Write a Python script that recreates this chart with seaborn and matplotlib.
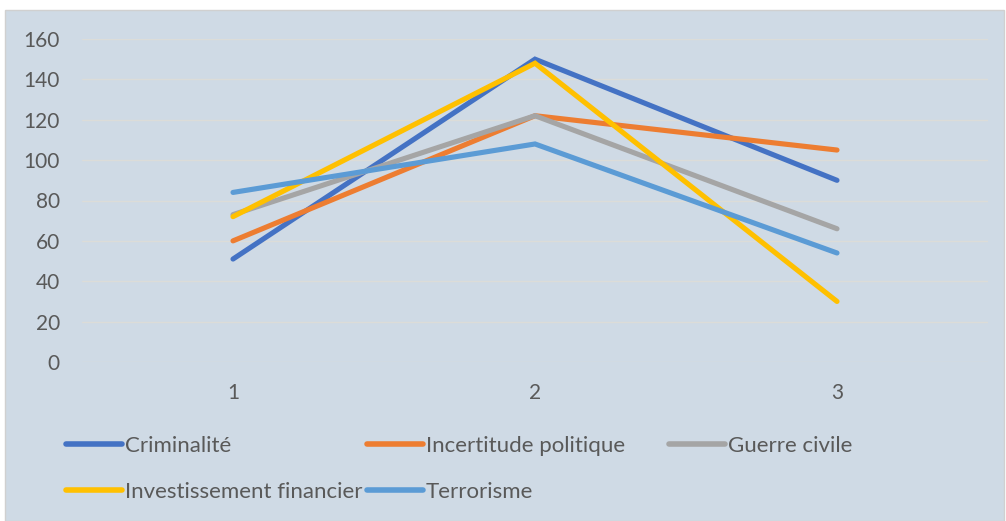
import numpy as np
import pandas as pd
import matplotlib.pyplot as plt
import seaborn as sns
from matplotlib.patches import Rectangle

# data
periods = [1, 2, 3]
series = ['Criminalité', 'Incertitude politique', 'Guerre civile',
          'Investissement financier', 'Terrorisme']
criminalite = [51, 150, 90]
incertitude = [60, 122, 105]
guerre = [73, 122, 66]
investissement = [72, 148, 30]
terrorisme = [84, 108, 54]
colors = ['#4472C4', '#ED7D31', '#A5A5A5', '#FFC000', '#5B9BD5']

df = pd.DataFrame({
    'x': periods * 5,
    'val': criminalite + incertitude + guerre + investissement + terrorisme,
    'serie': [s for s in series for _ in periods],
})

sns.set_style('white')
plt.rcParams['font.family'] = ['Lato', 'DejaVu Sans']
bg = '#CFDAE5'
txt = '#595959'
fs = 15

fig = plt.figure(figsize=(10.06, 5.21), dpi=100, facecolor='white')
fig.patches.append(Rectangle((4.5 / 1006, 0), 999 / 1006, 1 - 9.5 / 521,
                             transform=fig.transFigure, facecolor=bg,
                             edgecolor='#D0D0D0', linewidth=1, zorder=-5))
ax = fig.add_axes([82 / 1006, (521 - 362) / 521, 906 / 1006, 323 / 521])
ax.set_facecolor('none')

sns.lineplot(data=df, x='x', y='val', hue='serie', hue_order=series,
             palette=colors, linewidth=3.7, legend=False, ax=ax)
for ln in ax.lines:
    ln.set_solid_capstyle('round')
    ln.set_solid_joinstyle('miter')

ax.set_xlim(0.5, 3.5)
ax.set_ylim(0, 160)
ax.set_yticks(range(0, 161, 20))
ax.set_xticks(periods)
ax.set_xticklabels([str(p) for p in periods])
ax.grid(axis='y', color='#DCDCD8', linewidth=1)
ax.set_axisbelow(True)
for s in ax.spines.values():
    s.set_visible(False)
ax.tick_params(axis='y', length=0, pad=16, labelsize=fs, labelcolor=txt)
ax.tick_params(axis='x', length=0, pad=15, labelsize=fs, labelcolor=txt)
ax.set_xlabel('')
ax.set_ylabel('')

# legend entries placed like the original (row-wise, three columns)
pos = [(66, 446), (367, 446), (669, 446), (66, 492), (367, 492)]
for ln, name, (px, py) in zip(ax.lines, series, pos):
    h = plt.Line2D([], [], color=ln.get_color(), linewidth=4,
                   solid_capstyle='round')
    fig.legend(handles=[h], labels=[name], loc='center left',
               bbox_to_anchor=(px / 1006, (521 - py) / 521),
               frameon=False, borderpad=0, borderaxespad=0,
               handlelength=2.5, handletextpad=0.14,
               fontsize=16, labelcolor=txt)

fig.savefig('out.png', dpi=100, facecolor='white')
